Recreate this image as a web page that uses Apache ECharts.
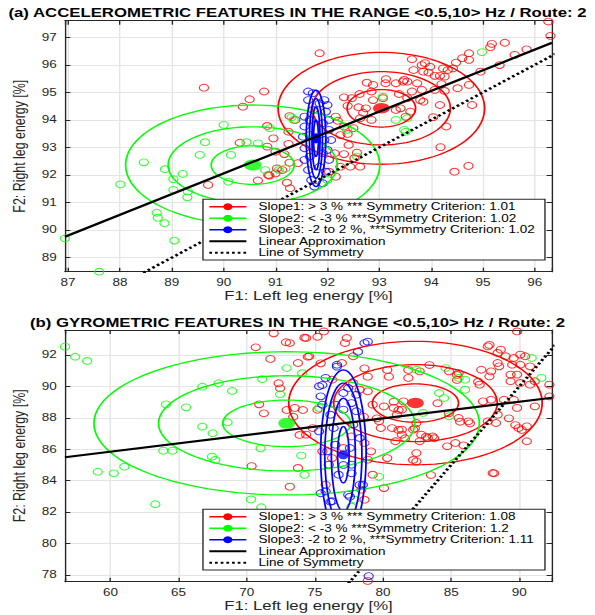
<!DOCTYPE html>
<html><head><meta charset="utf-8">
<script src="https://cdn.jsdelivr.net/npm/echarts@6/dist/echarts.min.js"></script>
<style>
html,body{margin:0;padding:0;background:#fff;overflow:hidden}
#wrap{width:595px;height:615px;overflow:hidden;position:relative}
#c{width:440px;height:615px;transform:scaleX(1.352273);transform-origin:0 0}
</style>
</head><body><div id="wrap"><div id="c"></div></div>
<script>
// ---------------- DATA ----------------
const titleA = '(a) ACCELEROMETRIC FEATURES IN THE RANGE <0.5,10> Hz / Route: 2';
const titleB = '(b) GYROMETRIC FEATURES IN THE RANGE <0.5,10> Hz / Route: 2';
const xName = 'F1: Left leg energy [%]';
const yName = 'F2: Right leg energy [%]';
const legendA = ['Slope1: > 3 % *** Symmetry Criterion: 1.01','Slope2: < -3 % ***Symmetry Criterion: 1.02','Slope3: -2 to 2 %, ***Symmetry Criterion: 1.02'];
const legendB = ['Slope1: > 3 % *** Symmetry Criterion: 1.08','Slope2: < -3 % ***Symmetry Criterion: 1.2','Slope3: -2 to 2 %, ***Symmetry Criterion: 1.11'];
const legendLin = 'Linear Approximation';
const legendSym = 'Line of Symmetry';

// axis ranges and tick labels
const aXRange = [86.94, 96.33], aYRange = [88.49, 97.6];
const bXRange = [56.66, 92.4],  bYRange = [77.57, 93.59];
const aXTicks = [87,88,89,90,91,92,93,94,95,96];
const aYTicks = [89,90,91,92,93,94,95,96,97];
const bXTicks = [60,65,70,75,80,85,90];
const bYTicks = [78,80,82,84,86,88,90,92];

// (a) accelerometric points
const aRed = [[89.62,95.17],[90.78,95.03],[90.50,94.75],[90.37,94.48],[90.84,93.78],[90.96,93.33],[91.27,94.14],[90.31,93.17],[91.25,93.13],
[89.70,91.64],[90.66,91.80],[90.88,91.98],[91.03,92.24],[91.27,92.45],[91.17,92.76],[91.22,91.72],[91.28,91.52],[91.13,92.18],
[91.85,96.42],[92.76,95.35],[92.88,95.27],[93.13,95.48],[93.12,95.33],[93.32,95.33],[93.46,95.39],[92.62,94.94],[92.85,95.03],[93.38,94.94],
[92.39,94.51],[92.60,94.46],[92.74,94.42],[92.69,94.26],[92.63,94.06],[92.85,94.00],[93.32,94.36],[93.41,94.42],[93.51,94.12],[93.60,94.30],
[92.20,93.97],[92.32,93.76],[92.50,93.70],[92.39,93.49],[92.25,93.45],[92.41,93.09],[92.57,92.81],[92.32,92.76],[92.14,92.79],[92.52,92.61],
[92.63,92.30],[92.44,92.30],[92.25,92.30],[92.16,91.94],[92.03,92.12],[91.38,94.00],[91.25,93.57],[90.84,93.03],[91.00,92.85],[90.86,92.00],
[91.00,92.06],[91.43,92.43],[92.32,94.82],[92.47,94.79],[92.88,94.72],[93.07,94.79],[92.16,94.12],
[96.26,97.57],[96.30,97.05],[95.42,96.80],[95.17,96.76],[95.14,96.64],[94.73,96.42],[94.60,96.24],[94.73,96.18],[94.48,96.08],[94.32,95.81],
[94.42,95.87],[93.63,96.20],[93.82,95.99],[93.88,96.06],[93.98,95.93],[93.66,95.81],[93.85,95.75],[93.95,95.72],[94.23,95.87],[94.26,95.57],
[94.17,95.60],[94.07,95.60],[93.54,95.39],[93.73,95.33],[94.20,95.30],[94.73,95.27],[94.95,95.75],[95.32,95.99],[95.61,96.36],[95.84,96.56],
[94.51,95.15],[94.26,95.05],[94.07,95.09],[93.82,95.09],[93.63,95.03],[93.54,94.79],[93.79,94.72],[93.85,94.66],[94.17,94.54],[94.79,94.54],
[94.04,94.10],[94.29,93.76],[94.18,93.01],[94.72,92.33],[94.45,92.12],[93.48,95.45]];
const aGreen = [[90.00,93.82],[89.64,93.19],[90.89,93.70],[91.31,94.10],[90.44,93.19],[90.66,93.15],
[88.46,92.46],[88.87,92.21],[89.54,92.73],[89.21,92.04],[88.01,91.66],[89.03,91.85],[89.03,91.46],[89.31,91.40],[89.30,91.19],[88.71,90.63],
[88.73,90.45],[88.86,90.25],[89.05,89.62],[86.94,89.70],[87.60,88.49],[90.14,92.73],[90.09,91.76],[90.80,92.18],[91.06,92.18],
[93.07,94.84],[93.48,93.64],[93.32,94.00],[91.35,94.00],[91.19,92.24],[92.57,92.67],[92.38,93.64],[92.00,91.82],
[94.98,96.46],[93.54,94.06],[93.51,93.57]];
const aBlue = [[91.63,95.03],[91.72,94.97],[91.94,94.72],[92.00,94.54],[91.97,94.30],[92.03,94.00],[91.56,94.12],[91.56,93.76],[91.53,93.39],
[92.03,93.64],[92.07,93.27],[91.56,92.97],[92.00,92.91],[91.56,92.55],[92.03,92.55],[91.63,92.18],[91.97,92.12],[91.69,91.82],[91.91,91.70],
[91.75,91.58],[91.85,94.60],[91.72,94.36],[91.66,94.00],[91.91,93.88],[91.91,92.79],[91.66,92.67],[91.85,92.30],[91.63,94.72],[91.66,93.45],[91.94,93.27]];

// (a) cluster centres and contour radii [rx, ry]
const aRedC = [93.04, 94.42];   const aRedR = [[0.66,0.68],[1.33,1.33],[1.99,2.03]];
const aGreenC = [90.56, 92.36]; const aGreenR = [[0.80,0.70],[1.63,1.39],[2.45,2.18]];
const aBlueC = [91.78, 93.33];  const aBlueR = [[0.188,1.75],[0.125,1.45],[0.078,1.15],[0.047,0.66],[0.02,0.18]];
const aLin = [[86.94,89.76],[96.33,96.80]];
const aSym = [[80,80],[100,100]];

// (b) gyrometric points
const bRed = [[71.98,93.38],[72.88,92.81],[70.66,92.49],[71.74,91.75],[74.24,93.10],[72.34,90.20],[72.45,89.88],[70.91,88.86],[71.26,88.29],
[72.93,88.50],[73.41,88.07],[73.88,86.91],[74.48,91.89],[74.12,88.50],[70.36,84.93],[73.16,83.62],[88.16,84.47],[83.52,84.36],[82.21,85.32],[78.88,77.62],
[73.16,92.76],[74.36,93.08],[75.66,93.50],[74.59,91.92],[77.34,93.08],[77.21,92.76],[77.81,91.92],[76.98,91.49],[73.76,91.49],[76.26,90.43],
[78.29,89.79],[77.81,90.22],[78.88,89.69],[79.24,88.84],[80.07,88.73],[80.79,88.63],[81.38,88.52],[81.02,88.20],[79.71,87.78],[79.84,87.35],
[80.66,87.35],[81.38,87.25],[81.38,86.93],[82.21,87.25],[82.45,87.67],[82.69,90.96],[81.86,90.54],[74.36,86.93],[73.52,88.63],[75.19,88.52],
[74.84,87.35],[78.64,86.40],[77.69,86.82],[79.12,85.87],[78.88,85.34],[80.31,85.44],[79.24,84.38],[80.07,83.53],[78.41,83.43],[78.64,82.79],
[82.45,85.76],[80.91,86.51],[76.26,85.44],[75.55,85.87],[73.76,84.81],[75.79,83.74],[77.09,86.08],[81.50,89.05],
[89.84,93.50],[87.69,92.55],[88.64,92.34],[88.41,92.13],[89.00,91.92],[90.07,92.02],[89.59,91.81],[90.43,91.92],[88.41,91.49],[88.52,91.28],
[89.48,91.38],[90.07,91.38],[90.79,91.28],[87.21,91.06],[87.93,90.96],[89.36,90.75],[89.84,90.75],[89.36,90.33],[90.07,90.22],[90.79,90.11],
[92.21,90.11],[91.14,90.33],[87.81,90.64],[87.09,90.11],[84.84,90.96],[85.55,90.85],[87.93,89.15],[88.88,89.15],[89.59,89.15],[89.84,88.63],
[91.14,88.73],[92.21,89.37],[87.34,89.05],[88.41,88.20],[85.55,87.99],[86.26,87.78],[87.69,87.78],[88.29,87.67],[89.95,87.35],[90.55,87.46],
[90.55,86.51],[82.81,86.93],[83.64,86.82],[83.29,86.72],[82.69,86.51],[85.31,86.40],[85.91,86.25],[84.71,86.19],[82.45,85.23],[88.05,84.49],
[75.19,93.16],[75.43,91.47],[78.64,91.15],[78.88,90.62],[80.31,91.05],[80.43,90.62],[81.86,91.05],[83.41,91.36],[85.43,90.73],[85.43,90.41],
[86.98,90.30],[87.81,92.64],[80.79,89.03],[81.14,88.50],[84.84,88.29],[85.66,87.75],[86.38,87.65],[82.34,87.33],[83.16,86.80],[83.76,86.70],
[81.14,87.23],[81.62,86.70],[78.59,88.07],[79.55,87.97],[89.24,87.97],[89.71,87.54],[90.19,87.23],[84.00,88.93]];
const bGreen = [[56.66,92.53],[57.41,91.89],[58.29,91.62],[66.74,89.98],[67.93,90.20],[68.93,89.71],[71.14,90.47],[64.07,88.86],[65.55,88.67],
[68.59,87.72],[66.74,87.44],[67.50,87.02],[63.88,85.91],[64.55,85.91],[67.45,85.53],[71.02,86.06],[74.00,85.60],[72.45,89.50],[74.07,90.84],
[59.07,84.57],[60.24,84.47],[61.02,84.89],[63.29,82.50],[70.31,82.81],[71.07,82.31],[74.24,84.37],[67.69,85.32],[79.71,84.25],[77.69,82.34],
[72.93,91.17],[77.93,82.79],[82.45,91.06],[75.31,88.63],[84.59,91.17],[85.55,90.54],[86.02,90.43],[86.02,89.79],[84.12,89.58],[84.48,89.26],
[84.84,88.10],[90.91,91.81],[91.62,90.54],[82.93,88.31]];
const bBlue = [[78.95,77.93],[75.43,83.20],[76.14,82.66],[77.57,82.98],[78.29,83.73],[77.09,85.00],[77.69,84.47],[78.64,92.76],[76.62,91.38],
[75.79,90.54],[75.31,90.01],[75.43,89.37],[77.45,89.90],[78.05,89.47],[76.50,88.84],[77.09,88.52],[76.14,88.20],[78.05,88.42],[76.38,87.35],
[77.81,87.56],[75.31,87.14],[78.29,86.72],[76.50,86.29],[75.91,85.87],[77.57,86.08],[76.02,85.02],[77.69,85.02],[76.74,84.38],[78.52,83.74],
[75.79,83.32],[77.45,83.11],[76.26,82.69],[77.69,88.94],[75.55,88.84],[77.09,89.58],[78.88,92.85],[78.16,92.21],[75.55,90.09],[76.62,91.26]];

const bRedC = [82.38, 88.94];   const bRedR = [[3.16,1.22],[6.0,2.45],[9.3,3.93]];
const bGreenC = [72.93, 87.65]; const bGreenR = [[4.69,1.48],[9.4,3.03],[14.14,4.56]];
const bBlueC = [77.09, 85.65];  const bBlueR = [[0.42,1.8],[0.88,3.6],[1.36,4.56],[1.67,5.4]];
const bLin = [[56.66,85.49],[92.4,89.28]];
const bSym = [[50,50],[100,100]];

// ---------------- CHART ----------------
const FONT = '"Liberation Sans", Arial, Helvetica, sans-serif';
const AX = '#262626', GRIDC = '#e4e4e4';
const RED = '#ff0000', GREEN = '#00ff00', BLUE = '#0000ff';

function rings(c, radii) {
  const out = [];
  radii.forEach((r, k) => {
    if (k > 0) out.push(null);
    for (let i = 0; i <= 120; i++) {
      const t = i / 120 * 2 * Math.PI;
      out.push([c[0] + r[0] * Math.cos(t), c[1] + r[1] * Math.sin(t)]);
    }
  });
  return out;
}
function lbl(ticks) {
  return v => ticks.some(t => Math.abs(t - v) < 1e-6) ? String(Math.round(v)) : '';
}
function xAxis(gi, range, step, ticks, main) {
  return {
    type: 'value', gridIndex: gi, min: range[0], max: range[1], position: main ? 'bottom' : 'top',
    minInterval: step, maxInterval: step, splitNumber: 10,
    axisLine: { show: true, onZero: false, lineStyle: { color: AX, width: 1 } },
    axisTick: { show: true, inside: true, length: 4, lineStyle: { color: AX, width: 1 } },
    axisLabel: { show: main, margin: 6, fontSize: 10, color: AX, fontFamily: FONT, formatter: lbl(ticks) },
    splitLine: { show: main, lineStyle: { color: GRIDC, width: 1 } },
    name: main ? xName : '', nameLocation: 'middle', nameGap: 18.5,
    nameTextStyle: { fontSize: 12.4, color: AX, fontFamily: FONT }
  };
}
function yAxis(gi, range, step, ticks, main) {
  return {
    type: 'value', gridIndex: gi, min: range[0], max: range[1], position: main ? 'left' : 'right',
    minInterval: step, maxInterval: step, splitNumber: 10,
    axisLine: { show: true, onZero: false, lineStyle: { color: AX, width: 1 } },
    axisTick: { show: true, inside: true, length: 4, lineStyle: { color: AX, width: 1 } },
    axisLabel: { show: main, margin: 6, fontSize: 10, color: AX, fontFamily: FONT, formatter: lbl(ticks) },
    splitLine: { show: main, lineStyle: { color: GRIDC, width: 1 } },
    name: main ? yName : '', nameLocation: 'middle', nameGap: 21,
    nameTextStyle: { fontSize: 12.4, color: AX, fontFamily: FONT }
  };
}
function pts(data, color, xi, yi) {
  return { type: 'scatter', xAxisIndex: xi, yAxisIndex: yi, data: data, symbol: 'circle', symbolSize: 6.8,
    itemStyle: { color: 'rgba(0,0,0,0)', borderColor: color, borderWidth: 0.9 }, silent: true, z: 2 };
}
function ell(name, c, radii, color, xi, yi) {
  return { type: 'line', name: name, xAxisIndex: xi, yAxisIndex: yi, data: rings(c, radii), showSymbol: false,
    symbol: 'circle', connectNulls: false, lineStyle: { color: color, width: 1.3 }, itemStyle: { color: color },
    silent: true, z: 3 };
}
function dot(c, color, size, xi, yi) {
  return { type: 'scatter', xAxisIndex: xi, yAxisIndex: yi, data: [c], symbol: 'circle', symbolSize: size,
    itemStyle: { color: color }, silent: true, z: 4 };
}
function lin(name, d, xi, yi) {
  return { type: 'line', name: name, xAxisIndex: xi, yAxisIndex: yi, data: d, showSymbol: false, symbol: 'circle',
    lineStyle: { color: '#000', width: 2.2 }, itemStyle: { color: '#000' }, silent: true, z: 5 };
}
function sym(name, d, xi, yi) {
  return { type: 'line', name: name, xAxisIndex: xi, yAxisIndex: yi, data: d, showSymbol: false, symbol: 'circle',
    lineStyle: { color: '#000', width: 2.4, type: [2, 2.2] }, itemStyle: { color: '#000' }, silent: true, z: 5 };
}
function legend(names, top) {
  return {
    z: 60,
    orient: 'vertical', left: 150.1, top: top, padding: [2.5, 3.7, 2.5, 3.7], itemWidth: 27.4, itemHeight: 8.5, itemGap: 1.5,
    backgroundColor: 'rgba(0,0,0,0)', borderWidth: 0, selectedMode: false,
    textStyle: { fontFamily: FONT, fontSize: 10, color: '#000', padding: [0, 0, 0, 4] },
    data: [
      { name: names[0], lineStyle: { width: 1.6 } },
      { name: names[1], lineStyle: { width: 1.6 } },
      { name: names[2], lineStyle: { width: 1.6 } },
      { name: legendLin, itemStyle: { opacity: 0 } },
      { name: legendSym, itemStyle: { opacity: 0 } }
    ]
  };
}
function legendBox(top) {
  return { type: 'rect', silent: true, z: 40,
    shape: { x: 150.1, y: top, width: 252.9, height: 60.7 },
    style: { fill: '#ffffff', stroke: AX, lineWidth: 1 } };
}

const chart = echarts.init(document.getElementById('c'), null, { renderer: 'svg' });
chart.setOption({
  animation: false,
  backgroundColor: '#fff',
  title: [
    { text: titleA, left: 'center', top: 6.6, padding: [0, 0, 0, 12], textStyle: { fontFamily: FONT, fontSize: 12.4, fontWeight: 'bold', color: '#000' } },
    { text: titleB, left: 'center', top: 317.1, padding: [0, 0, 0, 9], textStyle: { fontFamily: FONT, fontSize: 12.4, fontWeight: 'bold', color: '#000' } }
  ],
  grid: [
    { left: 38.7, right: 31.8, top: 20.7, height: 251, containLabel: false },
    { left: 38.7, right: 31.8, top: 330, height: 251.7, containLabel: false }
  ],
  xAxis: [xAxis(0, aXRange, 1, aXTicks, true), xAxis(0, aXRange, 1, aXTicks, false),
          xAxis(1, bXRange, 5, bXTicks, true), xAxis(1, bXRange, 5, bXTicks, false)],
  yAxis: [yAxis(0, aYRange, 1, aYTicks, true), yAxis(0, aYRange, 1, aYTicks, false),
          yAxis(1, bYRange, 2, bYTicks, true), yAxis(1, bYRange, 2, bYTicks, false)],
  graphic: [legendBox(199.3), legendBox(509.3)],
  legend: [legend(legendA, 199.3), legend(legendB, 509.3)],
  series: [
    pts(aRed, RED, 0, 0), pts(aGreen, GREEN, 0, 0), pts(aBlue, BLUE, 0, 0),
    ell(legendA[0], aRedC, aRedR, RED, 0, 0), ell(legendA[1], aGreenC, aGreenR, GREEN, 0, 0), ell(legendA[2], aBlueC, aBlueR, BLUE, 0, 0),
    dot(aRedC, RED, [12.5, 10.5], 0, 0), dot(aGreenC, GREEN, [13, 11], 0, 0), dot(aBlueC, BLUE, [3, 5], 0, 0),
    lin(legendLin, aLin, 0, 0), sym(legendSym, aSym, 0, 0),
    pts(bRed, RED, 2, 2), pts(bGreen, GREEN, 2, 2), pts(bBlue, BLUE, 2, 2),
    ell(legendB[0], bRedC, bRedR, RED, 2, 2), ell(legendB[1], bGreenC, bGreenR, GREEN, 2, 2), ell(legendB[2], bBlueC, bBlueR, BLUE, 2, 2),
    dot(bRedC, RED, [12.5, 10.5], 2, 2), dot(bGreenC, GREEN, [12.3, 11], 2, 2), dot(bBlueC, BLUE, [8, 9], 2, 2),
    lin(legendLin, bLin, 2, 2), sym(legendSym, bSym, 2, 2)
  ]
});
</script></body></html>
